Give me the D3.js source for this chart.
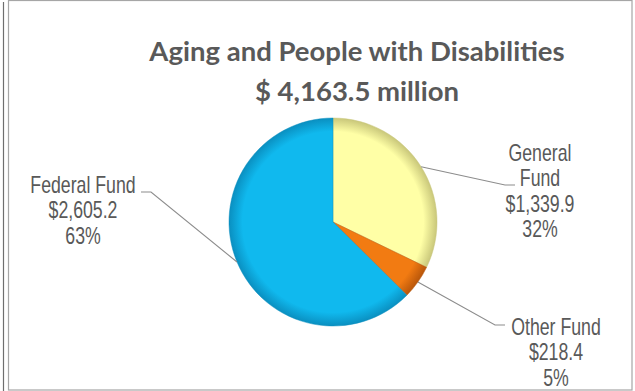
<!DOCTYPE html>
<html>
<head>
<meta charset="utf-8">
<script src="https://cdn.jsdelivr.net/npm/d3@7"></script>
<style>
  body { margin: 0; background: #fff; }
  .lbl { font-family: "Liberation Sans", Arial, sans-serif; fill: #595959; }
  .title { font-family: Lato, "Open Sans", sans-serif; font-weight: bold; fill: #595959; }
</style>
</head>
<body>
<div id="chart"></div>
<script>
// chart data
var categories = ["General Fund", "Other Fund", "Federal Fund"];
var amounts = [1339.9, 218.4, 2605.2];
var percents = ["32%", "5%", "63%"];
var amountLabels = ["$1,339.9", "$218.4", "$2,605.2"];
var titleLines = ["Aging and People with Disabilities", "$ 4,163.5 million"];

// layout
var width = 635, height = 391,
    cx = 333, cy = 222, radius = 104,
    narrow = 0.77;

var colors = ["#FFFFA6", "#F27B12", "#10B9EE"];
var darkColors = ["#C9C77A", "#B8560A", "#0A8FC0"];

// where each label sits and the elbow of its leader line
var labelPos = [
  {x: 540, y: 153, lines: ["General", "Fund"], elbow: [505, 185], end: [515, 185]},
  {x: 556, y: 327, lines: ["Other Fund"], elbow: [495, 325], end: [505, 325]},
  {x: 83, y: 185, lines: ["Federal Fund"], elbow: [151, 192], end: [141, 192]}
];

var svg = d3.select("#chart")
    .append("svg")
    .attr("width", width)
    .attr("height", height);

// outer frames
svg.append("line")
    .attr("x1", 3.5).attr("x2", 3.5)
    .attr("y1", 2).attr("y2", 391)
    .attr("stroke", "#6e6e6e").attr("stroke-width", 1.2);
svg.append("rect")
    .attr("x", 8.5).attr("y", 0.5)
    .attr("width", 623.5).attr("height", 389.5)
    .attr("fill", "#fff")
    .attr("stroke", "#a6a6a6").attr("stroke-width", 1.2);

// title
svg.selectAll(".title")
    .data(titleLines)
    .enter().append("text")
    .attr("class", "title")
    .attr("x", 357)
    .attr("y", (d, i) => 61 + i * 40)
    .attr("text-anchor", "middle")
    .style("font-size", "27.5px")
    .text(d => d);

// gradients for a soft bevel look (centred on the pie group origin)
var defs = svg.append("defs");
colors.forEach(function(c, i) {
  var g = defs.append("radialGradient")
      .attr("id", "grad" + i)
      .attr("gradientUnits", "userSpaceOnUse")
      .attr("cx", 0).attr("cy", 0).attr("r", radius);
  g.append("stop").attr("offset", "0.87").attr("stop-color", c);
  g.append("stop").attr("offset", "1").attr("stop-color", darkColors[i]);
});

var pie = d3.pie().sort(null).value(d => d);
var arcs = pie(amounts);

var arc = d3.arc().innerRadius(0).outerRadius(radius);
var edgeArc = d3.arc().innerRadius(radius).outerRadius(radius);

var slices = svg.append("g")
    .attr("transform", "translate(" + cx + "," + cy + ")");

slices.selectAll("path")
    .data(arcs)
    .enter().append("path")
    .attr("d", arc)
    .attr("fill", (d, i) => "url(#grad" + i + ")")
    .attr("stroke", (d, i) => darkColors[i])
    .attr("stroke-opacity", 0.6)
    .attr("stroke-width", 0.8);

// leader lines
svg.selectAll(".leader")
    .data(arcs)
    .enter().append("polyline")
    .attr("class", "leader")
    .attr("fill", "none")
    .attr("stroke", "#8c8c8c")
    .attr("stroke-width", 1.1)
    .attr("points", function(d, i) {
      var c = edgeArc.centroid(d);
      var p = labelPos[i];
      return [[cx + c[0], cy + c[1]], p.elbow, p.end].join(" ");
    });

// labels, squeezed horizontally to mimic a narrow face
labelPos.forEach(function(p, i) {
  var lines = p.lines.concat([amountLabels[i], percents[i]]);
  svg.append("g")
      .attr("transform", "translate(" + p.x + "," + p.y + ") scale(" + narrow + ",1)")
      .selectAll("text")
      .data(lines)
      .enter().append("text")
      .attr("class", "lbl")
      .attr("x", 0)
      .attr("y", (d, j) => 8 + j * 25.5)
      .attr("text-anchor", "middle")
      .style("font-size", "23px")
      .text(d => d);
});
</script>
</body>
</html>
